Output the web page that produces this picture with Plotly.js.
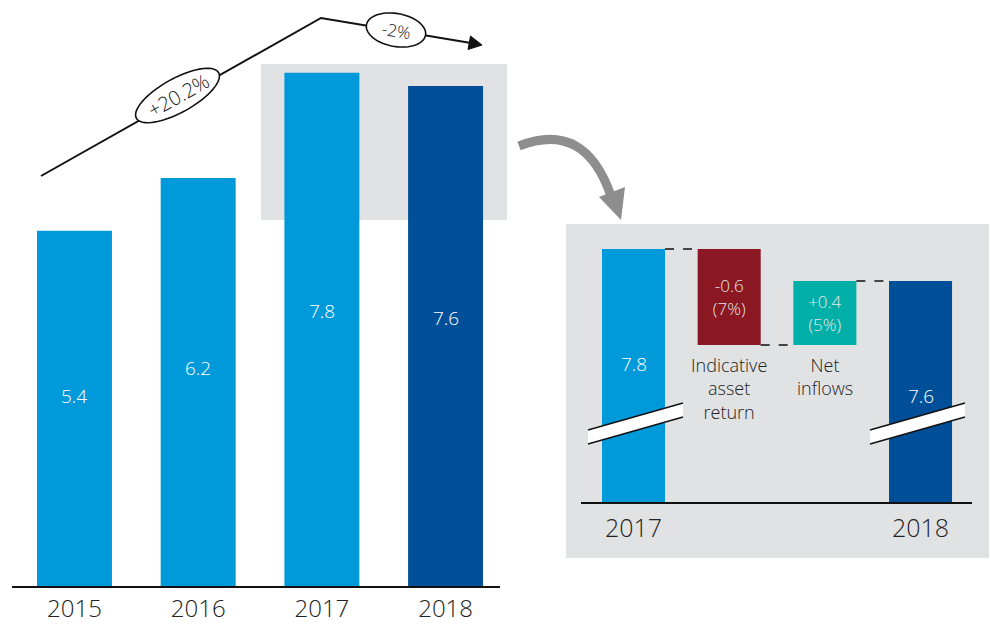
<!DOCTYPE html>
<html><head><meta charset="utf-8">
<script src="https://cdn.plot.ly/plotly-3.0.1.min.js"></script>
<style>html,body{margin:0;padding:0;background:#fff}</style>
</head><body><div id="chart" style="width:990px;height:624px"></div>
<script>
// ---- data ----
const years = ['2015', '2016', '2017', '2018'];
const aum = [5.4, 6.2, 7.8, 7.6];
const growthLabels = ['+20.2%', '-2%'];

const bridgeCats = ['2017', 'Indicative asset return', 'Net inflows', '2018'];
const bridgeStart = 7.8;
const bridgeChanges = [-0.6, 0.4];
const bridgeChangePct = ['7%', '5%'];
const bridgeEnd = 7.6;
const bridgeLabelLines = [['Indicative', 'asset', 'return'], ['Net', 'inflows']];

// ---- styles ----
const LIGHT = '#0099DA', DARK = '#004F98', RED = '#8A1722', TEAL = '#00B0A8', BOX = '#E1E2E4';
const FONT = '"Open Sans", "Liberation Sans", Arial, sans-serif';
const WT = 300;
const W = 990, H = 624;
const px = x => x / W, py = y => 1 - y / H;
const pathOf = (pts, close) => 'M' + pts.map(p => px(p[0]) + ',' + py(p[1])).join('L') + (close ? 'Z' : '');
function ellipse(cx, cy, a, b, deg) {
  const t = deg * Math.PI / 180, pts = [];
  for (let i = 0; i < 72; i++) {
    const u = i / 72 * 2 * Math.PI, ex = a * Math.cos(u), ey = b * Math.sin(u);
    pts.push([cx + ex * Math.cos(t) - ey * Math.sin(t), cy + ex * Math.sin(t) + ey * Math.cos(t)]);
  }
  return pathOf(pts, true);
}
const f = (size, color) => ({ size, color, family: FONT, weight: WT });

// ---- bridge computation ----
const levels = [bridgeStart];
bridgeChanges.forEach(c => levels.push(+(levels[levels.length - 1] + c).toFixed(3)));
const bridgeY = [bridgeStart], bridgeBase = [0];
bridgeChanges.forEach((c, i) => { bridgeY.push(Math.abs(c)); bridgeBase.push(Math.min(levels[i], levels[i + 1])); });
bridgeY.push(bridgeEnd); bridgeBase.push(0);
const fmt = v => (v > 0 ? '+' : '') + v.toFixed(1);
const bridgeText = [''].concat(bridgeChanges.map((c, i) => fmt(c) + '<br>(' + bridgeChangePct[i] + ')')).concat(['']);

const traces = [
  { type: 'bar', x: years, y: aum, xaxis: 'x', yaxis: 'y', width: 0.606,
    marker: { color: years.map((y, i) => i === years.length - 1 ? DARK : LIGHT) }, hoverinfo: 'skip' },
  { type: 'bar', x: bridgeCats, y: bridgeY, base: bridgeBase, xaxis: 'x2', yaxis: 'y2', width: 0.659,
    marker: { color: [LIGHT, RED, TEAL, DARK] }, text: bridgeText, textposition: 'inside',
    insidetextanchor: 'middle', textangle: 0, texttemplate: '%{text}',
    insidetextfont: f(17, '#E6E6E6'), hoverinfo: 'skip' }
];

const shapes = [
  { type: 'rect', xref: 'paper', yref: 'paper', x0: px(261), x1: px(507), y0: py(220), y1: py(64), fillcolor: BOX, line: { width: 0 }, layer: 'below' },
  { type: 'rect', xref: 'paper', yref: 'paper', x0: px(566), x1: px(989), y0: py(558), y1: py(224), fillcolor: BOX, line: { width: 0 }, layer: 'below' },
  // growth line & arrow
  { type: 'path', xref: 'paper', yref: 'paper', path: pathOf([[41, 176], [321, 18], [471, 43]]), line: { color: '#111', width: 2 } },
  { type: 'path', xref: 'paper', yref: 'paper', path: pathOf([[482, 45], [468, 49.5], [470.5, 36]], true), fillcolor: '#111', line: { color: '#111', width: 1 } },
  { type: 'path', xref: 'paper', yref: 'paper', path: ellipse(177.5, 95.5, 47, 17, -29), fillcolor: '#fff', line: { color: '#111', width: 1.6 } },
  { type: 'path', xref: 'paper', yref: 'paper', path: ellipse(396, 30, 30, 16.5, 10), fillcolor: '#fff', line: { color: '#111', width: 1.6 } },
  // curved gray arrow
  { type: 'path', xref: 'paper', yref: 'paper', path: 'M' + px(519) + ',' + py(146) + ' Q' + px(585) + ',' + py(120) + ' ' + px(611) + ',' + py(196), line: { color: '#8E8E8E', width: 9 } },
  { type: 'path', xref: 'paper', yref: 'paper', path: pathOf([[599, 197], [625, 187], [621, 220]], true), fillcolor: '#8E8E8E', line: { width: 0 } },
];
// connectors on the bridge
const half = 0.659 / 2;
for (let i = 0; i < 3; i++) {
  const yv = levels[Math.min(i, levels.length - 1)];
  shapes.push({ type: 'line', xref: 'x2', yref: 'y2', x0: i + half, x1: i + 1 - half, y0: yv, y1: yv,
    line: { color: '#111', width: 1.6, dash: '9px,9px' } });
}
// axis-break marks
[0, 282].forEach(dx => {
  shapes.push({ type: 'path', xref: 'paper', yref: 'paper', path: pathOf([[588 + dx, 430], [683 + dx, 403], [683 + dx, 417], [588 + dx, 444]], true), fillcolor: '#fff', line: { width: 0 } });
  shapes.push({ type: 'path', xref: 'paper', yref: 'paper', path: pathOf([[588 + dx, 430], [683 + dx, 403]]), line: { color: '#111', width: 1.4 } });
  shapes.push({ type: 'path', xref: 'paper', yref: 'paper', path: pathOf([[588 + dx, 444], [683 + dx, 417]]), line: { color: '#111', width: 1.4 } });
});

const annotations = [];
years.forEach((yr, i) => annotations.push({ xref: 'x', yref: 'y', x: i, y: aum[i] * 0.535, text: aum[i].toFixed(1),
  xanchor: 'center', yanchor: 'middle', showarrow: false, font: f(19, '#fff') }));
annotations.push({ xref: 'paper', yref: 'paper', x: px(178), y: py(95), xanchor: 'center', yanchor: 'middle',
  text: growthLabels[0], textangle: -29, showarrow: false, font: f(20, '#222') });
annotations.push({ xref: 'paper', yref: 'paper', x: px(396), y: py(30), xanchor: 'center', yanchor: 'middle',
  text: growthLabels[1], textangle: 10, showarrow: false, font: f(17, '#222') });
[0, 3].forEach(i => annotations.push({ xref: 'x2', yref: 'y2', x: i, y: bridgeY[i] - 0.72, text: bridgeY[i].toFixed(1),
  xanchor: 'center', yanchor: 'middle', showarrow: false, font: f(19, '#fff') }));
bridgeLabelLines.forEach((lines, k) => {
  annotations.push({ xref: 'x2', yref: 'y2', x: k + 1, y: Math.min(levels[k], levels[k + 1]),
    xanchor: 'center', yanchor: 'top', yshift: -6, text: lines.join('<br>'), showarrow: false, font: f(18, '#222') });
});

const layout = {
  width: W, height: H, margin: { l: 0, r: 0, t: 0, b: 0 }, paper_bgcolor: '#fff', plot_bgcolor: 'rgba(0,0,0,0)',
  showlegend: false, font: { family: FONT, color: '#222', weight: WT },
  xaxis: { type: 'category', domain: [px(12), px(500)], range: [-0.505, 3.44], anchor: 'y', showline: true, linecolor: '#111', linewidth: 2,
    ticks: '', ticklabelstandoff: 0, showgrid: false, zeroline: false, tickfont: f(24, '#222'), fixedrange: true },
  yaxis: { domain: [py(586), 1], range: [0, 586 / 65.8], visible: false, anchor: 'x', fixedrange: true },
  xaxis2: { type: 'category', domain: [px(581), px(972)], range: [-0.549, 3.538], anchor: 'y2', showline: true, linecolor: '#111', linewidth: 2,
    ticks: '', ticklabelstandoff: 3, showgrid: false, zeroline: false, tickvals: [bridgeCats[0], bridgeCats[3]], ticktext: [bridgeCats[0], bridgeCats[3]],
    tickfont: f(25, '#222'), fixedrange: true },
  yaxis2: { domain: [py(502), py(230)], range: [6.219, 7.919], visible: false, anchor: 'x2', fixedrange: true },
  shapes, annotations
};
Plotly.newPlot('chart', traces, layout, { displayModeBar: false, staticPlot: true });
</script></body></html>
